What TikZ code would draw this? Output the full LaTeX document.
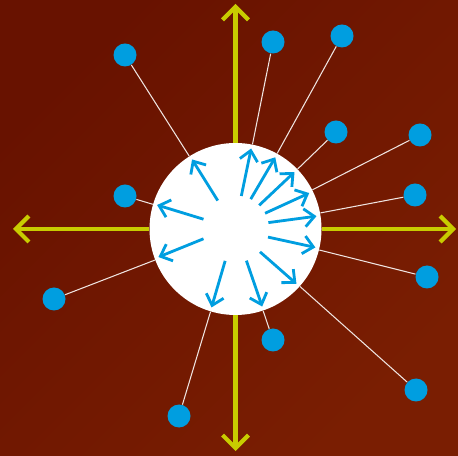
\documentclass[tikz,border=0pt]{standalone}
\usepackage{tikz}
\usetikzlibrary{arrows.meta,calc}
\definecolor{bgdark}  {RGB}{104, 18, 0}
\definecolor{bglight} {RGB}{122, 30, 2}
\definecolor{axiscol} {RGB}{200,204, 0}
\definecolor{dotcol}  {RGB}{0, 158, 224}

\begin{document}
\begin{tikzpicture}[
  dot/.style ={circle,fill=dotcol,minimum size=0.46cm,inner sep=0pt},
  core/.style={circle,fill=white,minimum size=3.44cm,inner sep=0pt},
  conn/.style={white!88!bglight,line width=0.6pt},
  axis/.style={axiscol,line width=2.4pt,
               -{Straight Barb[length=0.26cm,width=0.52cm]}},
  flux/.style={dotcol,line width=1.6pt,
               -{Straight Barb[length=0.2cm,width=0.36cm]}},
]
\useasboundingbox (0,0) rectangle (9.16,9.10);
\shade[shading=axis,top color=bgdark,bottom color=bglight,shading angle=45]
  (0,0) rectangle (9.16,9.10);
\node[core] (c) at (4.71,4.52) {};
\node[dot] (d1)  at (2.50,8.00) {};
\node[dot] (d2)  at (5.46,8.26) {};
\node[dot] (d3)  at (6.84,8.38) {};
\node[dot] (d4)  at (6.72,6.46) {};
\node[dot] (d5)  at (8.40,6.40) {};
\node[dot] (d6)  at (2.50,5.18) {};
\node[dot] (d7)  at (8.30,5.20) {};
\node[dot] (d8)  at (1.08,3.12) {};
\node[dot] (d9)  at (8.54,3.56) {};
\node[dot] (d10) at (5.46,2.30) {};
\node[dot] (d11) at (3.58,0.78) {};
\node[dot] (d12) at (8.32,1.30) {};
\foreach \d in {d1,d2,d3,d4,d5,d6,d7,d8,d9,d10,d11,d12}
  \draw[conn] (\d)--(c);
\coordinate (ytop)   at (4.71,9.02);
\coordinate (ybot)   at (4.71,0.08);
\coordinate (xleft)  at (0.26,4.52);
\coordinate (xright) at (9.12,4.52);
\foreach \t in {ytop,ybot,xleft,xright}
  \draw[axis] (c)--(\t);
\foreach \a/\b in {122/122,163/163,197/200,252/253,289/289,317/318,
                   346/347,11/9,28/26,45/44,63/61,80/79}
  \draw[flux] ($(c)+(\a:0.67cm)$)--($(c)+(\b:1.64cm)$);
\end{tikzpicture}
\end{document}
